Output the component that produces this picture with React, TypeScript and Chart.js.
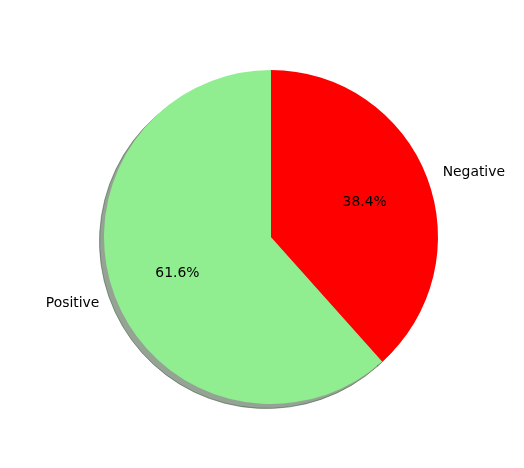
import React, { useEffect, useRef } from "react";
import { Chart, registerables } from "chart.js";

Chart.register(...registerables);

const categories = ["Positive", "Negative"];
const values = [61.6, 38.4];
const colors = ["#90EE90", "#FF0000"];

const FONT = "13.9px 'DejaVu Sans', sans-serif";

function shadowOf(hex: string, a: number) {
  const r = parseInt(hex.slice(1, 3), 16);
  const g = parseInt(hex.slice(3, 5), 16);
  const b = parseInt(hex.slice(5, 7), 16);
  return `rgba(${Math.round(r * 0.3)},${Math.round(g * 0.3)},${Math.round(b * 0.3)},${a})`;
}

const shadowPlugin = {
  id: "pieShadow",
  beforeDatasetsDraw(chart: any) {
    const meta = chart.getDatasetMeta(0);
    const ctx = chart.ctx as CanvasRenderingContext2D;
    const ox = -4.5;
    const oy = 4.5;
    meta.data.forEach((arc: any, i: number) => {
      const p = arc.getProps(["x", "y", "startAngle", "endAngle", "outerRadius"], true);
      ctx.save();
      ctx.beginPath();
      ctx.moveTo(p.x + ox, p.y + oy);
      ctx.arc(p.x + ox, p.y + oy, p.outerRadius, p.startAngle, p.endAngle);
      ctx.closePath();
      ctx.fillStyle = shadowOf(colors[i], 0.5);
      ctx.fill();
      ctx.lineWidth = 1;
      ctx.strokeStyle = shadowOf(colors[i], 0.5);
      ctx.stroke();
      ctx.restore();
    });
  },
};

const labelPlugin = {
  id: "pieLabels",
  afterDatasetsDraw(chart: any) {
    const meta = chart.getDatasetMeta(0);
    const ctx = chart.ctx as CanvasRenderingContext2D;
    const data = chart.data.datasets[0].data as number[];
    const total = data.reduce((s, v) => s + v, 0);
    meta.data.forEach((arc: any, i: number) => {
      const p = arc.getProps(["x", "y", "startAngle", "endAngle", "outerRadius"], true);
      const mid = (p.startAngle + p.endAngle) / 2;
      const c = Math.cos(mid);
      const s = Math.sin(mid);
      ctx.save();
      ctx.font = FONT;
      ctx.fillStyle = "#000";
      ctx.textBaseline = "middle";
      ctx.textAlign = c > 0 ? "left" : "right";
      ctx.fillText(
        chart.data.labels[i],
        p.x + 1.1 * p.outerRadius * c,
        p.y + 1.1 * p.outerRadius * s + 1
      );
      ctx.textAlign = "center";
      ctx.fillText(
        ((data[i] / total) * 100).toFixed(1) + "%",
        p.x + 0.6 * p.outerRadius * c,
        p.y + 0.6 * p.outerRadius * s + 1
      );
      ctx.restore();
    });
  },
};

export default function App() {
  const ref = useRef<HTMLCanvasElement>(null);
  useEffect(() => {
    if (!ref.current) return;
    const total = values.reduce((s, v) => s + v, 0);
    const chart = new Chart(ref.current, {
      type: "pie",
      data: {
        labels: categories,
        datasets: [
          {
            data: values,
            backgroundColor: colors,
            borderWidth: 0,
            hoverOffset: 0,
          },
        ],
      },
      options: {
        animation: false,
        responsive: false,
        devicePixelRatio: 1,
        rotation: -(values[0] / total) * 360,
        layout: { padding: { top: 70, bottom: 64, left: 104, right: 86 } },
        plugins: {
          legend: { display: false },
          tooltip: { enabled: false },
        },
        events: [],
      },
      plugins: [shadowPlugin, labelPlugin],
    });
    return () => chart.destroy();
  }, []);
  return (
    <div style={{ position: "fixed", left: 0, top: 0, width: 524, height: 468, background: "#fff" }}>
      <canvas ref={ref} width={524} height={468} style={{ width: 524, height: 468 }} />
    </div>
  );
}
